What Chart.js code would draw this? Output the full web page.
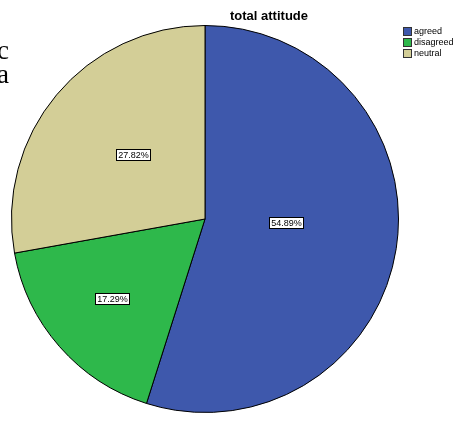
<!DOCTYPE html>
<html>
<head>
<meta charset="utf-8">
<script src="https://cdn.jsdelivr.net/npm/chart.js@4"></script>
<style>
body{margin:0;background:#fff;}
#wrap{position:relative;width:457px;height:423px;overflow:hidden;}
.frag{position:absolute;font-family:"Liberation Serif","Times New Roman",serif;font-size:27px;color:#000;line-height:1;}
</style>
</head>
<body>
<div id="wrap">
<canvas id="pie" width="457" height="423"></canvas>
<div class="frag" style="left:-3px;top:37px">c</div>
<div class="frag" style="left:-3px;top:61px">a</div>
</div>
<script>
const categories = ['agreed', 'disagreed', 'neutral']
const percents = [54.89, 17.29, 27.82]
const colors = ['#3e58ac', '#2eb84b', '#d3ce97']
const titleText = 'total attitude'

// where the % boxes sit inside each slice (fraction of radius, turn in degrees)
const labelRadius = [0.42, 0.63, 0.5]
const labelTurn = [-7, 1, 2]

const spssBits = {
    id: 'spssBits',
    afterDraw(chart) {
        const ctx = chart.ctx
        ctx.save()

        // title
        ctx.fillStyle = '#000'
        ctx.font = 'bold 13px "Liberation Sans", Arial, sans-serif'
        ctx.textAlign = 'center'
        ctx.textBaseline = 'alphabetic'
        ctx.fillText(titleText, 269, 19.5)

        // legend
        ctx.font = '9px "Liberation Sans", Arial, sans-serif'
        ctx.textAlign = 'left'
        ctx.textBaseline = 'middle'
        categories.forEach((c, i) => {
            const y = 27 + i * 11
            ctx.fillStyle = colors[i]
            ctx.fillRect(403, y, 8, 8)
            ctx.strokeStyle = '#333'
            ctx.lineWidth = 1
            ctx.strokeRect(403.5, y + 0.5, 8, 8)
            ctx.fillStyle = '#000'
            ctx.fillText(c, 414, y + 4.5)
        })

        // percent boxes
        const meta = chart.getDatasetMeta(0)
        meta.data.forEach((arc, i) => {
            const p = arc.getProps(['x', 'y', 'startAngle', 'endAngle', 'outerRadius'], true)
            const mid = (p.startAngle + p.endAngle) / 2 + labelTurn[i] * Math.PI / 180
            const r = p.outerRadius * labelRadius[i]
            const x = Math.round(p.x + Math.cos(mid) * r)
            const y = Math.round(p.y + Math.sin(mid) * r)
            const txt = percents[i].toFixed(2) + '%'
            const w = Math.round(ctx.measureText(txt).width) + 3
            const h = 11
            const bx = Math.round(x - w / 2), by = Math.round(y - h / 2)
            ctx.fillStyle = '#fff'
            ctx.fillRect(bx, by, w, h)
            ctx.strokeStyle = '#000'
            ctx.strokeRect(bx + 0.5, by + 0.5, w, h)
            ctx.fillStyle = '#000'
            ctx.textAlign = 'center'
            ctx.fillText(txt, bx + w / 2 + 0.5, by + h / 2 + 1)
        })
        ctx.restore()
    }
}

new Chart(document.getElementById('pie'), {
    type: 'pie',
    data: {
        labels: categories,
        datasets: [{
            data: percents,
            backgroundColor: colors,
            borderColor: '#000',
            borderWidth: 1,
            hoverOffset: 0
        }]
    },
    options: {
        responsive: false,
        devicePixelRatio: 1,
        animation: false,
        layout: {
            padding: {left: 11, right: 58, top: 25, bottom: 10}
        },
        plugins: {
            legend: {display: false},
            title: {display: false},
            tooltip: {enabled: false}
        }
    },
    plugins: [spssBits]
})
</script>
</body>
</html>
